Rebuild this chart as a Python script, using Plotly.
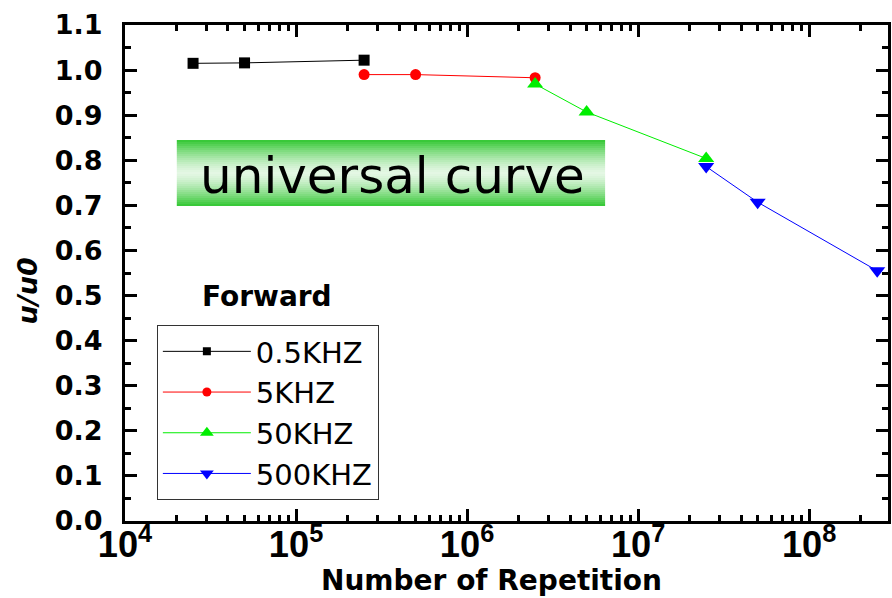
import plotly.graph_objects as go

# ---- data ----
x_05k = [2.5e4, 5e4, 2.5e5]
y_05k = [1.015, 1.016, 1.022]
x_5k = [2.5e5, 5e5, 2.5e6]
y_5k = [0.990, 0.990, 0.983]
x_50k = [2.5e6, 5e6, 2.5e7]
y_50k = [0.969, 0.907, 0.804]
x_500k = [2.5e7, 5e7, 2.5e8]
y_500k = [0.786, 0.707, 0.555]

names = ["0.5KHZ", "5KHZ", "50KHZ", "500KHZ"]
colors = ["#000000", "#ff0000", "#00ee00", "#0000ff"]
symbols = ["square", "circle", "triangle-up", "triangle-down"]
sizes = [11, 11, 14, 14]
leg_sizes = [8, 9, 12, 12]
xs = [x_05k, x_5k, x_50k, x_500k]
ys = [y_05k, y_5k, y_50k, y_500k]

W, H = 892, 598
L, R, T, B = 125, 1, 25, 77
pw, ph = W - L - R, H - T - B

def px(xp):
    return (xp - L) / pw

def py(yp):
    return (H - B - yp) / ph

fig = go.Figure()
for i in range(4):
    fig.add_trace(go.Scatter(
        x=xs[i], y=ys[i], mode="lines+markers", showlegend=False,
        line=dict(color=colors[i], width=1),
        marker=dict(symbol=symbols[i], size=sizes[i], color=colors[i]),
    ))
for i in range(4):
    fig.add_trace(go.Scatter(
        x=[None], y=[None], mode="lines+markers", name=names[i],
        line=dict(color=colors[i], width=1),
        marker=dict(symbol=symbols[i], size=leg_sizes[i], color=colors[i]),
    ))

# gradient green box
shapes = []
x0b, x1b, y0b, y1b = 177, 607, 140, 206
N = 33
dark = (50, 200, 50)
light = (228, 247, 228)
for k in range(N):
    t = (k + 0.5) / N
    d = abs(t - 0.5) * 2
    d = d ** 1.4
    c = tuple(int(light[j] + (dark[j] - light[j]) * d) for j in range(3))
    ya = y0b + (y1b - y0b) * k / N
    yb = y0b + (y1b - y0b) * (k + 1) / N
    shapes.append(dict(type="rect", xref="paper", yref="paper",
                       x0=px(x0b), x1=px(x1b), y0=py(ya), y1=py(yb) - 0.0001,
                       fillcolor="rgb(%d,%d,%d)" % c, line=dict(width=0),
                       layer="below"))

xtickfont = dict(family="Liberation Sans", size=29, color="black", weight="bold")
ytickfont = dict(family="DejaVu Sans", size=27, color="black", weight="bold")

fig.update_layout(
    width=W, height=H,
    margin=dict(l=L, r=R, t=T, b=B),
    paper_bgcolor="white", plot_bgcolor="white",
    shapes=shapes,
    showlegend=True,
    legend=dict(
        x=px(157), y=py(325), xanchor="left", yanchor="top",
        bgcolor="rgba(255,255,255,0)", bordercolor="#333", borderwidth=1,
        font=dict(family="DejaVu Sans", size=29, color="black"),
        itemwidth=88,
    ),
    xaxis=dict(
        type="log", range=[4, 8.461], dtick=1, exponentformat="power",
        showgrid=False, zeroline=False,
        showline=True, linecolor="black", linewidth=3, mirror="ticks",
        ticks="inside", ticklen=12, tickwidth=3, tickcolor="black",
        tickfont=xtickfont, ticklabelstandoff=-9,
        minor=dict(ticks="inside", ticklen=6, tickwidth=3, tickcolor="black", showgrid=False),
    ),
    yaxis=dict(
        range=[0, 1.1], dtick=0.1, tickformat=".1f",
        showgrid=False, zeroline=False,
        showline=True, linecolor="black", linewidth=3, mirror="ticks",
        ticks="inside", ticklen=12, tickwidth=3, tickcolor="black",
        tickfont=ytickfont, ticklabelstandoff=14,
        minor=dict(ticks="inside", ticklen=6, tickwidth=3, tickcolor="black", dtick=0.05, showgrid=False),
    ),
    annotations=[
        dict(text="universal curve", xref="paper", yref="paper",
             x=px(394), y=py(176), xanchor="center", yanchor="middle",
             showarrow=False,
             font=dict(family="DejaVu Sans", size=50, color="black")),
        dict(text="Forward", xref="paper", yref="paper",
             x=px(268), y=py(296), xanchor="center", yanchor="middle",
             showarrow=False,
             font=dict(family="DejaVu Sans", size=28, color="black", weight="bold")),
        dict(text="Number of Repetition", xref="paper", yref="paper",
             x=px(493), y=py(580), xanchor="center", yanchor="middle",
             showarrow=False,
             font=dict(family="DejaVu Sans", size=28, color="black", weight="bold")),
        dict(text="<i>u/u0</i>", xref="paper", yref="paper",
             x=px(27), y=py(291), xanchor="center", yanchor="middle",
             textangle=-90, showarrow=False,
             font=dict(family="DejaVu Sans", size=27, color="black", weight="bold")),
    ],
)

fig.write_html("out.html")
